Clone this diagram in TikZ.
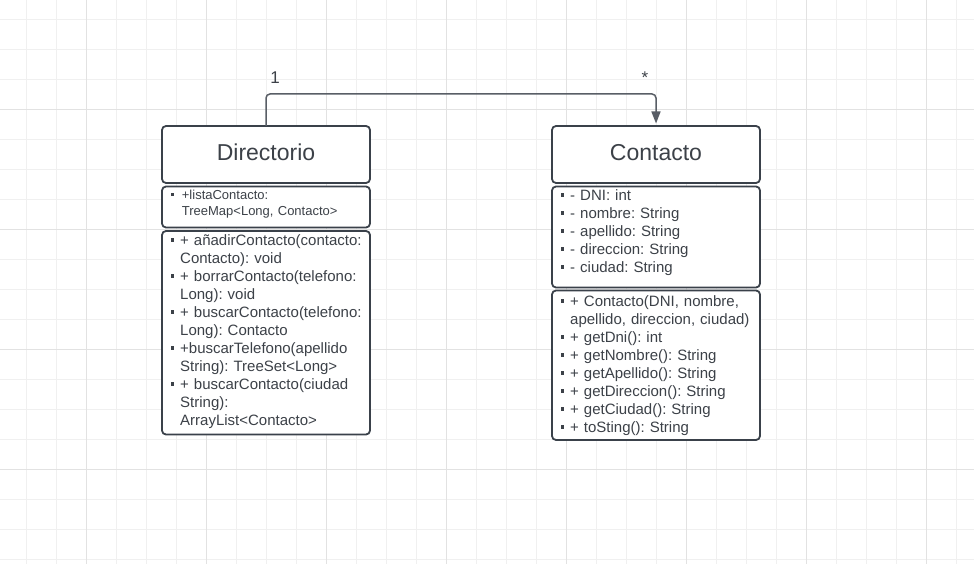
\documentclass[tikz,border=0pt]{standalone}
\usepackage{fontspec}
\setmainfont{Liberation Sans}
\usetikzlibrary{arrows.meta}
\definecolor{txt}{HTML}{3C4148}
\definecolor{bord}{HTML}{3A414A}
\definecolor{conncol}{HTML}{595E66}
\definecolor{gridminor}{HTML}{F0F0F0}
\definecolor{gridmajor}{HTML}{E2E2E2}
\frenchspacing
\newcommand\bul{\leavevmode\llap{\rule[3.8pt]{3.6pt}{3.6pt}\hspace{6pt}}}
\newcommand\bulsm{\leavevmode\llap{\rule[3.3pt]{3.2pt}{3.2pt}\hspace{7.8pt}}}
\begin{document}
\begin{tikzpicture}[x=1pt,y=-1pt,
  umlbox/.style={draw=bord, fill=white, line width=1.8pt, rounded corners=4pt,
    rectangle, inner sep=0pt, outer sep=0pt, minimum width=208pt},
  titletext/.style={font=\fontsize{23}{27}\selectfont, text=txt, inner sep=0pt},
  mtext/.style={anchor=base west, inner sep=0pt, text width=200pt, align=left,
    font=\fontsize{15}{18}\selectfont\frenchspacing, text=txt},
  atext/.style={anchor=base west, inner sep=0pt, text width=200pt, align=left,
    font=\fontsize{13}{16}\selectfont\frenchspacing, text=txt},
  mult/.style={anchor=base, inner sep=0pt, font=\fontsize{17}{20}\selectfont, text=txt},
  connector/.style={draw=conncol, line width=1.5pt, rounded corners=4pt,
    -{Triangle[length=12pt,width=9pt]}, shorten >=2.5pt}
]
\fill[white] (0,0) rectangle (974,564);
\useasboundingbox (0,0) rectangle (974,564);
% grid
\foreach \i in {0,...,31} \draw[gridminor, line width=1pt] ({26.7+30*\i},0) -- ({26.7+30*\i},564);
\foreach \j in {0,...,18} \draw[gridminor, line width=1pt] (0,{19.3+30*\j}) -- (974,{19.3+30*\j});
\foreach \i in {0,...,7} \draw[gridmajor, line width=1pt] ({86.7+120*\i},0) -- ({86.7+120*\i},564);
\foreach \j in {0,...,3} \draw[gridmajor, line width=1pt] (0,{109.3+120*\j}) -- (974,{109.3+120*\j});

% Directorio
\node[umlbox, minimum height=57pt] (dirTitle) at (266,154.5) {};
\node[umlbox, minimum height=41pt] (dirAttr) at (266,207) {};
\node[umlbox, minimum height=203.5pt] (dirMeth) at (266,332.75) {};
\node[titletext] (dirName) at (266,152.5) {Directorio};
\node[atext] (dirAttrTxt) at (181.7,199.3) {\bulsm+listaContacto:\\TreeMap<Long, Contacto>};
\node[mtext] (dirMethTxt) at (180,245.7) {\bul+ añadirContacto(contacto:\\Contacto): void\\\bul+ borrarContacto(telefono:\\Long): void\\\bul+ buscarContacto(telefono:\\Long): Contacto\\\bul+buscarTelefono(apellido\\String): TreeSet<Long>\\\bul+ buscarContacto(ciudad\\String):\\ArrayList<Contacto>};

% Contacto
\node[umlbox, minimum height=57pt] (conTitle) at (656,154.5) {};
\node[umlbox, minimum height=101pt] (conAttr) at (656,237) {};
\node[umlbox, minimum height=149.5pt] (conMeth) at (656,365.25) {};
\node[titletext] (conName) at (656,152.3) {Contacto};
\node[mtext] (conAttrTxt) at (570,200.7) {\bul- DNI: int\\\bul- nombre: String\\\bul- apellido: String\\\bul- direccion: String\\\bul- ciudad: String};
\node[mtext] (conMethTxt) at (570,306.5) {\bul+ Contacto(DNI, nombre,\\apellido, direccion, ciudad)\\\bul+ getDni(): int\\\bul+ getNombre(): String\\\bul+ getApellido(): String\\\bul+ getDireccion(): String\\\bul+ getCiudad(): String\\\bul+ toSting(): String};

% association
\draw[connector] (dirTitle.north) -- ++(0,-32) -| (conTitle.north);
\node[mult] (multOne) at (275,83.5) {1};
\node[mult] (multMany) at (645,84) {*};
\end{tikzpicture}
\end{document}
